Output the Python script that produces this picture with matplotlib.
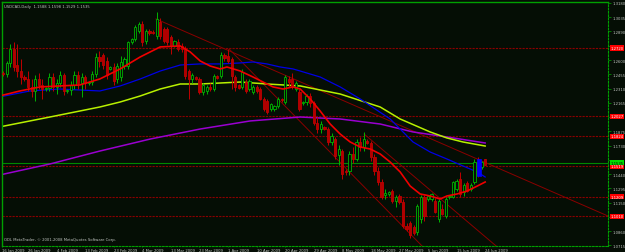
import matplotlib
matplotlib.use("Agg")
import matplotlib.pyplot as plt
from matplotlib.patches import Rectangle

# header texts
title = "USDCAD,Daily  1.1588 1.1598 1.1529 1.1535"
copyright_txt = "ODL MetaTrader, \u00a9 2001-2008 MetaQuotes Software Corp."

# daily candles, 16 Jan 2009 .. 24 Jun 2009 (sunday bars included)
opens = [1.2407, 1.2468, 1.2458, 1.2570, 1.2712, 1.2549, 1.2488, 1.2427, 1.2407, 1.2326,
         1.2285, 1.2407, 1.2346, 1.2305, 1.2315, 1.2427, 1.2326, 1.2366, 1.2448, 1.2285,
         1.2295, 1.2346, 1.2448, 1.2366, 1.2427, 1.2366, 1.2376, 1.2458, 1.2631, 1.2651,
         1.2590, 1.2509, 1.2529, 1.2407, 1.2427, 1.2539, 1.2539, 1.2783, 1.2814, 1.2895,
         1.2967, 1.2794, 1.2895, 1.2885, 1.2845, 1.2987, 1.2916, 1.2916, 1.2834, 1.2743,
         1.2783, 1.2743, 1.2712, 1.2488, 1.2407, 1.2427, 1.2407, 1.2275, 1.2285, 1.2326,
         1.2305, 1.2438, 1.2438, 1.2651, 1.2641, 1.2610, 1.2427, 1.2346, 1.2326, 1.2376,
         1.2305, 1.2275, 1.2326, 1.2305, 1.2204, 1.2183, 1.2102, 1.2102, 1.2132, 1.2204,
         1.2173, 1.2407, 1.2407, 1.2305, 1.2275, 1.2163, 1.2173, 1.2234, 1.2163, 1.1959,
         1.1898, 1.1919, 1.1898, 1.1766, 1.1796, 1.1634, 1.1674, 1.1471, 1.1471, 1.1644,
         1.1593, 1.1766, 1.1715, 1.1776, 1.1756, 1.1613, 1.1471, 1.1359, 1.1227, 1.1237,
         1.1267, 1.1166, 1.1217, 1.1155, 1.0911, 1.0942, 1.0901, 1.0850, 1.0982, 1.1206,
         1.1186, 1.1186, 1.1166, 1.0983, 1.1084, 1.1013, 1.1206, 1.1206, 1.1288, 1.1389,
         1.1257, 1.1349, 1.1288, 1.1359, 1.1562, 1.1512, 1.1588]
highs = [1.2509, 1.2488, 1.2590, 1.2763, 1.2783, 1.2763, 1.2610, 1.2448, 1.2488, 1.2407,
         1.2448, 1.2468, 1.2407, 1.2326, 1.2468, 1.2468, 1.2407, 1.2488, 1.2468, 1.2305,
         1.2387, 1.2488, 1.2488, 1.2468, 1.2448, 1.2387, 1.2488, 1.2672, 1.2692, 1.2672,
         1.2631, 1.2539, 1.2570, 1.2570, 1.2641, 1.2631, 1.2794, 1.2824, 1.2956, 1.2987,
         1.2997, 1.2916, 1.2916, 1.2906, 1.3089, 1.3028, 1.2936, 1.2936, 1.2855, 1.2804,
         1.2814, 1.2773, 1.2743, 1.2509, 1.2468, 1.2438, 1.2427, 1.2366, 1.2346, 1.2366,
         1.2458, 1.2448, 1.2682, 1.2672, 1.2712, 1.2631, 1.2448, 1.2356, 1.2509, 1.2407,
         1.2407, 1.2346, 1.2346, 1.2326, 1.2224, 1.2204, 1.2163, 1.2142, 1.2224, 1.2214,
         1.2448, 1.2438, 1.2468, 1.2387, 1.2305, 1.2183, 1.2254, 1.2265, 1.2183, 1.2020,
         1.1980, 1.1929, 1.1919, 1.1858, 1.1817, 1.1735, 1.1695, 1.1491, 1.1674, 1.1715,
         1.1796, 1.1817, 1.1868, 1.1796, 1.1776, 1.1644, 1.1512, 1.1389, 1.1288, 1.1267,
         1.1288, 1.1227, 1.1237, 1.1186, 1.0942, 1.0962, 1.0921, 1.1135, 1.1227, 1.1227,
         1.1227, 1.1247, 1.1196, 1.1186, 1.1135, 1.1206, 1.1227, 1.1369, 1.1389, 1.1461,
         1.1349, 1.1369, 1.1349, 1.1593, 1.1613, 1.1573, 1.1598]
lows = [1.2326, 1.2438, 1.2427, 1.2529, 1.2488, 1.2427, 1.2356, 1.2387, 1.2285, 1.2224,
        1.2183, 1.2305, 1.2204, 1.2285, 1.2285, 1.2285, 1.2254, 1.2326, 1.2244, 1.2265,
        1.2244, 1.2305, 1.2305, 1.2224, 1.2305, 1.2346, 1.2346, 1.2427, 1.2529, 1.2509,
        1.2407, 1.2499, 1.2346, 1.2366, 1.2387, 1.2509, 1.2509, 1.2763, 1.2794, 1.2875,
        1.2743, 1.2763, 1.2855, 1.2865, 1.2814, 1.2814, 1.2773, 1.2753, 1.2661, 1.2733,
        1.2692, 1.2682, 1.2407, 1.2204, 1.2366, 1.2397, 1.2254, 1.2244, 1.2254, 1.2285,
        1.2285, 1.2407, 1.2417, 1.2590, 1.2570, 1.2305, 1.2285, 1.2305, 1.2305, 1.2265,
        1.2285, 1.2254, 1.2265, 1.2193, 1.2081, 1.2051, 1.2081, 1.2081, 1.2112, 1.2173,
        1.2153, 1.2326, 1.2305, 1.2285, 1.2081, 1.2142, 1.2142, 1.2122, 1.1939, 1.1858,
        1.1858, 1.1888, 1.1735, 1.1735, 1.1593, 1.1532, 1.1389, 1.1430, 1.1430, 1.1552,
        1.1573, 1.1674, 1.1674, 1.1746, 1.1573, 1.1430, 1.1328, 1.1186, 1.1186, 1.1217,
        1.1145, 1.1105, 1.1135, 1.0891, 1.0860, 1.0789, 1.0820, 1.0820, 1.0942, 1.0962,
        1.1166, 1.1166, 1.1044, 1.0952, 1.1023, 1.0993, 1.1186, 1.1196, 1.1267, 1.1206,
        1.1217, 1.1257, 1.1267, 1.1339, 1.1410, 1.1491, 1.1529]
closes = [1.2468, 1.2458, 1.2570, 1.2712, 1.2529, 1.2488, 1.2427, 1.2407, 1.2326, 1.2285,
          1.2407, 1.2346, 1.2305, 1.2315, 1.2427, 1.2326, 1.2366, 1.2448, 1.2285, 1.2295,
          1.2346, 1.2448, 1.2366, 1.2427, 1.2366, 1.2376, 1.2458, 1.2631, 1.2590, 1.2549,
          1.2448, 1.2529, 1.2387, 1.2539, 1.2580, 1.2610, 1.2783, 1.2814, 1.2936, 1.2967,
          1.2783, 1.2895, 1.2875, 1.2875, 1.3018, 1.2845, 1.2794, 1.2783, 1.2743, 1.2794,
          1.2712, 1.2712, 1.2438, 1.2407, 1.2448, 1.2407, 1.2275, 1.2346, 1.2326, 1.2305,
          1.2438, 1.2417, 1.2651, 1.2621, 1.2590, 1.2438, 1.2326, 1.2315, 1.2478, 1.2285,
          1.2387, 1.2326, 1.2285, 1.2204, 1.2102, 1.2071, 1.2153, 1.2132, 1.2204, 1.2193,
          1.2427, 1.2376, 1.2336, 1.2366, 1.2102, 1.2173, 1.2234, 1.2163, 1.1959, 1.1898,
          1.1949, 1.1898, 1.1766, 1.1827, 1.1624, 1.1695, 1.1440, 1.1461, 1.1644, 1.1593,
          1.1766, 1.1715, 1.1796, 1.1756, 1.1613, 1.1471, 1.1359, 1.1206, 1.1247, 1.1257,
          1.1166, 1.1206, 1.1155, 1.0911, 1.0881, 1.0820, 1.0840, 1.1115, 1.1206, 1.1013,
          1.1217, 1.1237, 1.1054, 1.1166, 1.1033, 1.1186, 1.1217, 1.1359, 1.1369, 1.1237,
          1.1328, 1.1267, 1.1328, 1.1562, 1.1430, 1.1562, 1.1535]

date_labels = ["16 Jan 2009", "26 Jan 2009", "4 Feb 2009", "13 Feb 2009", "23 Feb 2009",
               "4 Mar 2009", "13 Mar 2009", "23 Mar 2009", "1 Apr 2009", "10 Apr 2009",
               "20 Apr 2009", "29 Apr 2009", "8 May 2009", "18 May 2009", "27 May 2009",
               "5 Jun 2009", "15 Jun 2009", "24 Jun 2009"]
bars_per_label = 8
price_ticks = [1.3180, 1.3035, 1.2890, 1.2745, 1.2600, 1.2455, 1.2310, 1.2165, 1.2020,
               1.1875, 1.1730, 1.1585, 1.1440, 1.1295, 1.1150, 1.1005, 1.0860, 1.0715]

# moving averages (bar index, price)
ma_fast_bar = [0, 5.7, 11.3, 16.9, 22.5, 28.1, 33.8, 39.4, 45, 50.6, 53.4, 56.2, 59, 61.8, 63.7,
               67.4, 71, 73.8, 76.6, 79.4, 82.2, 84.2, 87, 89.8, 92.6, 95.4, 98.2, 101, 103.8,
               106.6, 109.4, 112.2, 115, 117.8, 120.6, 123.4, 125.3, 128.1, 130.9, 133.8, 136]
ma_fast = [1.2234, 1.2285, 1.2326, 1.2336, 1.2346, 1.2407, 1.2509, 1.2631, 1.2733, 1.2743, 1.2682,
           1.2590, 1.2539, 1.2509, 1.2529, 1.2488, 1.2427, 1.2376, 1.2326, 1.2305, 1.2326, 1.2305,
           1.2204, 1.2081, 1.1949, 1.1847, 1.1766, 1.1715, 1.1695, 1.1644, 1.1562, 1.1461, 1.1318,
           1.1237, 1.1217, 1.1186, 1.1217, 1.1237, 1.1267, 1.1318, 1.1359]
ma_blue_bar = [0, 8.5, 16.9, 22.5, 28.1, 33.8, 39.4, 45, 50.6, 56.2, 61.8, 67.4, 71, 74.9, 78.6,
               82.2, 84.2, 89.8, 95.4, 101, 109.4, 115.8, 120.6, 125.3, 129.8, 133.8, 136]
ma_blue = [1.2224, 1.2285, 1.2305, 1.2295, 1.2285, 1.2336, 1.2407, 1.2488, 1.2549, 1.2560, 1.2560,
           1.2570, 1.2580, 1.2560, 1.2529, 1.2509, 1.2488, 1.2427, 1.2326, 1.2204, 1.2000, 1.1766,
           1.1664, 1.1593, 1.1522, 1.1461, 1.1410]
ma_lime_bar = [0, 14.1, 28.1, 33.8, 39.4, 45, 50.6, 56.2, 67.4, 74.9, 84.2, 95.4, 106.6, 112.2,
               120.6, 125.3, 129.8, 136]
ma_lime = [1.1919, 1.2020, 1.2122, 1.2173, 1.2234, 1.2305, 1.2356, 1.2356, 1.2376, 1.2356, 1.2336,
           1.2254, 1.2122, 1.2000, 1.1868, 1.1807, 1.1766, 1.1725]
ma_violet_bar = [0, 14.1, 28.1, 42.2, 56.2, 70.2, 84.2, 95.4, 106.6, 115.8, 125.3, 136]
ma_violet = [1.1430, 1.1542, 1.1674, 1.1796, 1.1898, 1.1980, 1.2020, 1.2000, 1.1949, 1.1868,
             1.1817, 1.1756]

# drawn objects
trend_lines = [((43.8, 1.3018), (170.4, 1.1013)),
               ((64.3, 1.2712), (118.6, 1.0698)),
               ((102.1, 1.1847), (139.4, 1.0698))]
h_levels = [1.2720, 1.2027, 1.1824, 1.1519, 1.1209, 1.1010]
ask_level = 1.1557
bid_text = "1.1535"
marked_bar = 134.3
marked_range = (1.1420, 1.1593)

bg = "#050e05"
grn = "#00a000"
txt = "#c0c4c0"
fs = 2.7

fig = plt.figure(figsize=(6.25, 2.53), dpi=100)
fig.patch.set_facecolor(bg)
ax = fig.add_axes([2 / 625, 6 / 253, 606 / 625, 244 / 253])
ax.set_facecolor(bg)
xmin, xmax = 0.7, 170.4
ax.set_xlim(xmin, xmax)
ax.set_ylim(1.0708, 1.3190)

for sp in ["top", "left"]:
    ax.spines[sp].set_color(grn)
    ax.spines[sp].set_linewidth(1.0)
for sp in ["right", "bottom"]:
    ax.spines[sp].set_color(grn)
    ax.spines[sp].set_linewidth(0.8)
    ax.spines[sp].set_linestyle((0, (1.5, 1.5)))

# horizontal levels and trend lines
for lv in h_levels:
    ax.axhline(lv, color="#8a0000", lw=0.8, ls=(0, (2, 1)), zorder=1)
ax.axhline(ask_level, color="#008800", lw=0.8, zorder=1)
for (x0, y0), (x1, y1) in trend_lines:
    ax.plot([x0, x1], [y0, y1], color="#8a0000", lw=0.7, zorder=1)

# candles
w = 0.62
for i in range(len(opens)):
    o, h, l, c = opens[i], highs[i], lows[i], closes[i]
    up = c >= o
    col = "#00b400" if up else "#c00000"
    ax.vlines(i, l, h, color=col, lw=0.7, zorder=3)
    ax.add_patch(Rectangle((i - w / 2, min(o, c)), w, max(abs(c - o), 0.0003),
                           facecolor=bg if up else "#b00000", edgecolor=col, lw=0.6, zorder=4))
ax.add_patch(Rectangle((marked_bar - 0.55, marked_range[0]), 1.1, marked_range[1] - marked_range[0],
                       facecolor="#0000ff", edgecolor="#0000ff", lw=0.5, zorder=5))

# moving averages
ax.plot(ma_violet_bar, ma_violet, color="#9a00d0", lw=1.1, zorder=2)
ax.plot(ma_lime_bar, ma_lime, color="#b8f000", lw=1.1, zorder=2)
ax.plot(ma_blue_bar, ma_blue, color="#0000e6", lw=0.9, zorder=2)
ax.plot(ma_fast_bar, ma_fast, color="#f00000", lw=1.2, zorder=6)

# axes ticks and labels; tick labels hidden under a price box are left out
step = price_ticks[0] - price_ticks[1]
ax.yaxis.tick_right()
ax.set_yticks(price_ticks)
ylabels = []
for v in price_ticks:
    covered = any(abs(v - lv) < step * 0.3 for lv in h_levels + [ask_level])
    ylabels.append("" if covered else f"{v:.4f}")
ax.set_yticklabels(ylabels, fontsize=fs, color=txt)
ax.tick_params(axis="y", length=2, width=0.5, color=grn, pad=1.2)
xt = [max(b, xmin) for b in range(0, len(opens), bars_per_label)]
ax.set_xticks(xt)
ax.set_xticklabels(date_labels, fontsize=fs, color=txt, ha="left")
ax.tick_params(axis="x", length=1, width=0.5, color=grn, pad=0.2)

# price boxes on the right
for lv in h_levels:
    ax.text(1.004, lv, f"{lv:.4f}", transform=ax.get_yaxis_transform(), fontsize=fs,
            color="white", va="center", ha="left", zorder=10, clip_on=False,
            bbox=dict(boxstyle="square,pad=0.2", fc="#ff0000", ec="none"))
ax.text(1.004, ask_level, bid_text, transform=ax.get_yaxis_transform(), fontsize=fs,
        color="black", va="center", ha="left", zorder=10, clip_on=False,
        bbox=dict(boxstyle="square,pad=0.2", fc="#00dd00", ec="none"))

ax.text(0.004, 0.984, title, transform=ax.transAxes, fontsize=fs, color=txt, va="center", ha="left")
ax.text(0.004, 0.03, copyright_txt, transform=ax.transAxes, fontsize=fs, color=txt, va="center", ha="left")

fig.savefig("out.png", dpi=100, facecolor=bg)
